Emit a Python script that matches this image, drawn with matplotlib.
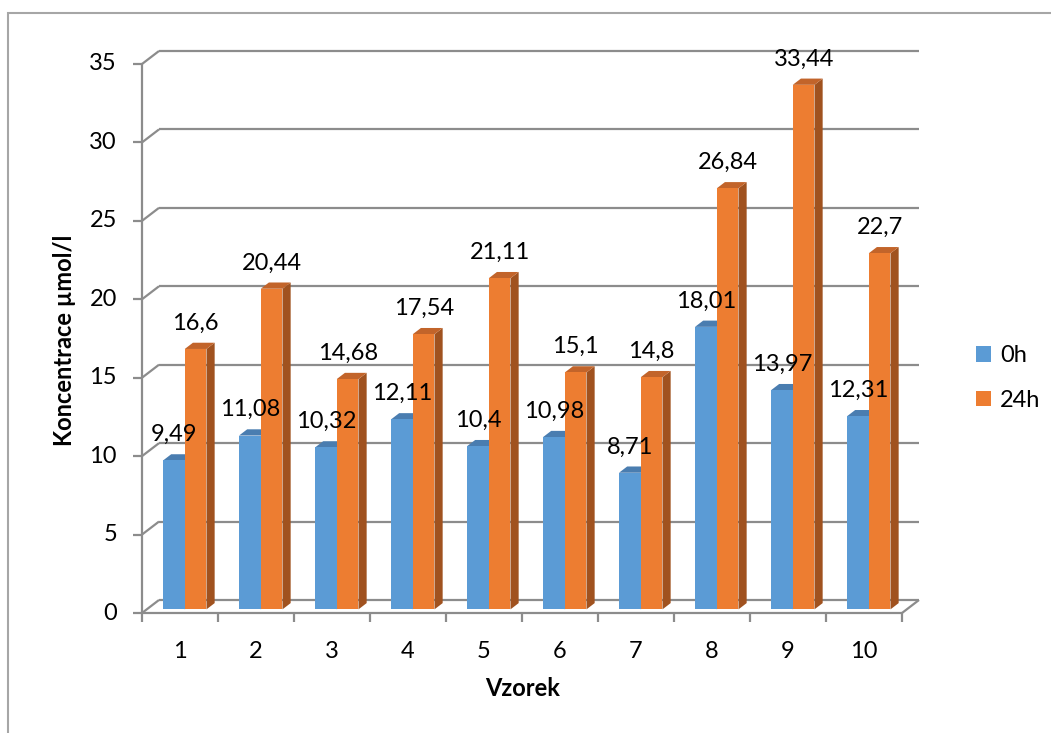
import matplotlib.pyplot as plt
from matplotlib.patches import Polygon, Rectangle, Patch

# data
samples = ['1', '2', '3', '4', '5', '6', '7', '8', '9', '10']
h0 = [9.49, 11.08, 10.32, 12.11, 10.4, 10.98, 8.71, 18.01, 13.97, 12.31]
h24 = [16.6, 20.44, 14.68, 17.54, 21.11, 15.1, 14.8, 26.84, 33.44, 22.7]
series_names = ['0h', '24h']
yticks = [0, 5, 10, 15, 20, 25, 30, 35]

plt.rcParams['font.family'] = ['Lato', 'DejaVu Sans']
FS = 17

fig = plt.figure(figsize=(10.51, 7.33), dpi=100)
ax = fig.add_axes([142 / 1051, 1 - 613 / 733, 760 / 1051, 549 / 733])
ax.set_xlim(0, 10)
ax.set_ylim(0, 35)
ax.axis('off')

# outer chart border (only left/top visible)
fig.patches.append(Rectangle((8 / 1051, -0.05), 1.1, 1 - 13 / 733 + 0.05,
                             transform=fig.transFigure, fill=False,
                             edgecolor='#a6a6a6', linewidth=1.5))

# depth offset of the back wall, in data units
DX = 17 / 76
DY = 13 / 15.66
grid_c = '#8c8c8c'
lw = 1.6

def line(xs, ys):
    ax.plot(xs, ys, color=grid_c, linewidth=lw, clip_on=False,
            solid_capstyle='butt', zorder=1)

for v in yticks:
    line([DX, 10 + DX], [v + DY, v + DY])
    line([0, DX], [v, v + DY])
    line([-9 / 76, 0], [v, v])
    ax.text(-25 / 76, v, str(v), ha='right', va='center', fontsize=FS)

line([0, 0], [0, 35])
line([0, 10], [0, 0])
line([10, 10 + DX], [0, DY])
for i in range(11):
    line([i, i], [0, -9 / 15.66])

# bars
d0, d1 = 0.28, 0.76
s0, b0 = d0 * DX, d0 * DY
s1, b1 = d1 * DX, d1 * DY
colors = [('#5b9bd5', '#4a7db0', '#41719c'), ('#ed7d31', '#c2642a', '#a0521f')]
w = 0.286

def bar(x0, h, cols):
    x1 = x0 + w
    front, top, side = cols
    ax.add_patch(Polygon([(x1 + s0, b0), (x1 + s1, b1), (x1 + s1, h + b1), (x1 + s0, h + b0)],
                         closed=True, facecolor=side, edgecolor='none', clip_on=False, zorder=3))
    ax.add_patch(Polygon([(x0 + s0, h + b0), (x1 + s0, h + b0), (x1 + s1, h + b1), (x0 + s1, h + b1)],
                         closed=True, facecolor=top, edgecolor='none', clip_on=False, zorder=3))
    ax.add_patch(Rectangle((x0 + s0, b0), w, h, facecolor=front, edgecolor='none',
                           clip_on=False, zorder=3))
    lab = ('%g' % h).replace('.', ',')
    ax.text(x0 + s0 + w / 2, h + b0 + 1.65, lab, ha='center', va='center',
            fontsize=FS, zorder=5, clip_on=False)

for i in range(len(samples)):
    bar(i + 0.5 - w, h0[i], colors[0])
    bar(i + 0.5, h24[i], colors[1])
    ax.text(i + 0.5, -38 / 15.66, samples[i], ha='center', va='center', fontsize=FS)

fig.text(65 / 1051, 1 - 340 / 733, 'Koncentrace µmol/l', rotation=90, ha='center',
         va='center', fontsize=FS, fontweight='bold')
fig.text(523 / 1051, 1 - 688 / 733, 'Vzorek', ha='center', va='center',
         fontsize=FS, fontweight='bold')

handles = [Patch(facecolor=colors[0][0]), Patch(facecolor=colors[1][0])]
fig.legend(handles, series_names, loc='center left', bbox_to_anchor=(976 / 1051, 1 - 378 / 733),
           frameon=False, fontsize=FS, handlelength=0.62, handleheight=0.62,
           handletextpad=0.4, labelspacing=1.0, borderpad=0, borderaxespad=0)

fig.savefig('out.png', dpi=100)
